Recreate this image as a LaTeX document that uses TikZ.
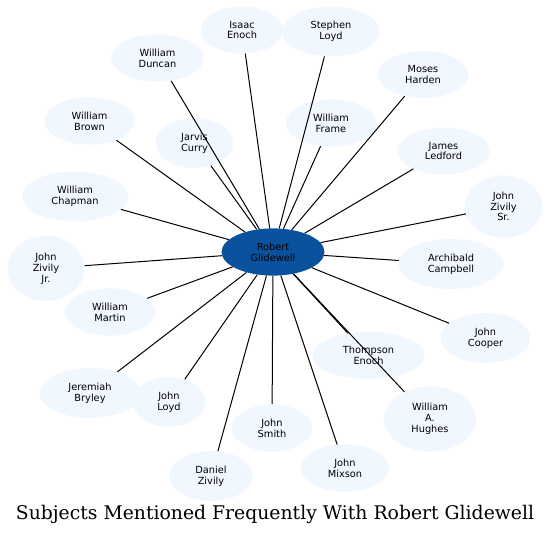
\documentclass[tikz,border=0pt]{standalone}
\usepackage{fontspec}
\setmainfont{DejaVu Serif}
\setsansfont{DejaVu Sans}
\usetikzlibrary{shapes.geometric}
\definecolor{nodepale}{HTML}{F0F7FF}
\definecolor{hubblue}{HTML}{0B529E}

\begin{document}
\begin{tikzpicture}[x=1pt, y=-1pt,
    person/.style={ellipse, fill=nodepale, align=center, font=\sffamily\fontsize{9.8}{10.8}\selectfont,
                   inner xsep=14pt, inner ysep=7.5pt},
    hub/.style={person, fill=hubblue},
    link/.style={draw=black, line width=1pt}]
  \useasboundingbox (0,0) rectangle (551,537);

  % people round the hub
  \node[person] (isaac)    at (242,30)    {Isaac\\Enoch};
  \node[person] (stephen)  at (331,31.5)  {Stephen\\Loyd};
  \node[person] (duncan)   at (157.5,58)  {William\\Duncan};
  \node[person] (moses)    at (423,74.5)  {Moses\\Harden};
  \node[person] (brown)    at (89.5,121)  {William\\Brown};
  \node[person] (frame)    at (331,123)   {William\\Frame};
  \node[person] (jarvis)   at (194.5,143) {Jarvis\\Curry};
  \node[person] (ledford)  at (443.5,151) {James\\Ledford};
  \node[person] (chapman)  at (75,196.5)  {William\\Chapman};
  \node[person] (zivsr)    at (503.5,206.5) {John\\Zivily\\Sr.};
  \node[person] (zivjr)    at (46,268.5)  {John\\Zivily\\Jr.};
  \node[person] (campbell) at (451,264)   {Archibald\\Campbell};
  \node[person] (martin)   at (110,312)   {William\\Martin};
  \node[person] (cooper)   at (485.5,338) {John\\Cooper};
  \node[person] (thompson) at (368.5,355.5) {Thompson\\Enoch};
  \node[person] (bryley)   at (90,393)    {Jeremiah\\Bryley};
  \node[person] (jloyd)    at (169,402)   {John\\Loyd};
  \node[person] (hughes)   at (430,419)   {William\\A.\\Hughes};
  \node[person] (smith)    at (272,428)   {John\\Smith};
  \node[person] (mixson)   at (345,468)   {John\\Mixson};
  \node[person] (daniel)   at (211,476)   {Daniel\\Zivily};

  \node[hub] (robert) at (273,252) {Robert\\Glidewell};

  \foreach \who in {isaac,stephen,duncan,moses,brown,frame,jarvis,ledford,chapman,zivsr,zivjr,
                    campbell,martin,cooper,thompson,bryley,jloyd,hughes,smith,mixson,daniel}
    \draw[link] (robert) -- (\who);

  \node[font=\fontsize{18.8}{22}\selectfont] (title) at (275,514) {Subjects Mentioned Frequently With Robert Glidewell};
\end{tikzpicture}
\end{document}
